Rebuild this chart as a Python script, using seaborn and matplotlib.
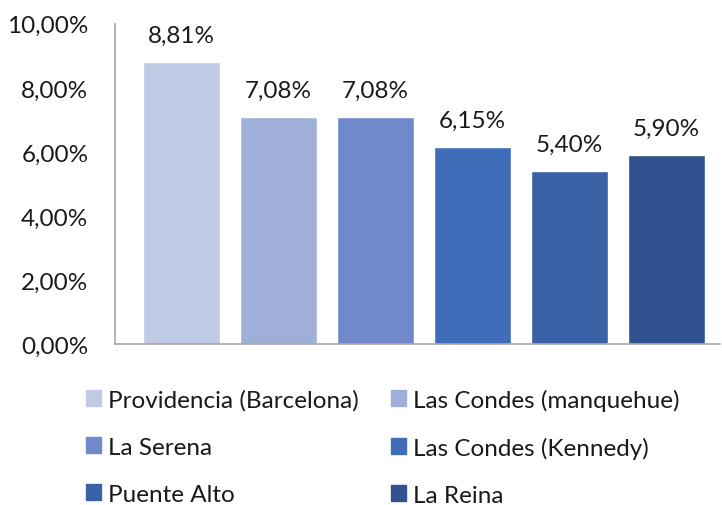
import numpy as np
import pandas as pd
import matplotlib
matplotlib.use('Agg')
import matplotlib.pyplot as plt
import seaborn as sns
from matplotlib.ticker import FuncFormatter

# data
sedes = ['Providencia (Barcelona)', 'Las Condes (manquehue)', 'La Serena',
         'Las Condes (Kennedy)', 'Puente Alto', 'La Reina']
porcentajes = [8.81, 7.08, 7.08, 6.15, 5.40, 5.90]
colores = ['#C0CAE5', '#9FAFD8', '#6F89C9', '#3F6DBA', '#3A60A6', '#30528E']

df = pd.DataFrame({'sede': sedes, 'pct': porcentajes})

sns.set_theme(style='white')
plt.rcParams['font.family'] = ['Lato', 'DejaVu Sans']

fig = plt.figure(figsize=(7.22, 5.06), dpi=100)
ax = fig.add_axes([0.159, 0.318, 0.838, 0.633])

sns.barplot(data=df, x='sede', y='pct', hue='sede', palette=colores,
            width=0.8, saturation=1, legend=False, ax=ax)

for i, v in enumerate(porcentajes):
    ax.text(i, v + 0.5, f'{v:.2f}%'.replace('.', ','), ha='center', va='bottom',
            fontsize=17.5, color='#1a1a1a')

ax.set_ylim(0, 10)
ax.set_xlim(-0.69, 5.55)
ax.set_yticks(np.arange(0, 10.1, 2))
ax.yaxis.set_major_formatter(FuncFormatter(lambda y, _: f'{y:.2f}%'.replace('.', ',')))
ax.tick_params(axis='y', labelsize=17.5, colors='#1a1a1a', length=0, pad=19)
ax.set_xticks([])
ax.set_xlabel('')
ax.set_ylabel('')
for s in ['top', 'right']:
    ax.spines[s].set_visible(False)
for s in ['left', 'bottom']:
    ax.spines[s].set_color('#a6a6a6')
    ax.spines[s].set_linewidth(1.2)

# legend filled row by row, as in the original
orden = [0, 2, 4, 1, 3, 5]
handles = [plt.Rectangle((0, 0), 1, 1, color=colores[k]) for k in orden]
labels = [sedes[k] for k in orden]
fig.legend(handles, labels, ncol=2, loc='upper left', bbox_to_anchor=(0.119, 0.23),
           frameon=False, fontsize=17.5, handlelength=0.62, handleheight=0.62,
           handletextpad=0.3, columnspacing=1.3, labelspacing=1.07,
           borderpad=0, borderaxespad=0, labelcolor='#1a1a1a')

fig.savefig('out.png', dpi=100)
